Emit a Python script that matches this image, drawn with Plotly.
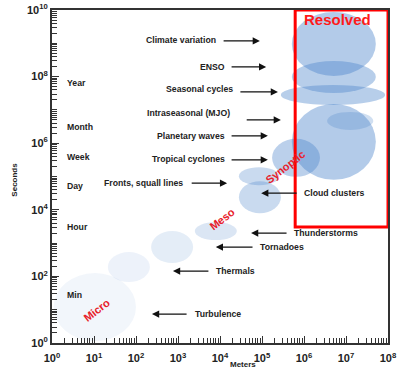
import plotly.graph_objects as go

# Phenomena scale ellipses: log10 extents of length (m) and time (s)
scale_names = ["Micro", "Small eddies", "Thermals", "Meso", "Cloud clusters", "Fronts",
               "Tropical cyclones", "Planetary waves", "Intraseasonal (MJO)",
               "Seasonal cycles", "ENSO", "Climate variation"]
log_len_lo = [0.04, 1.33, 2.36, 3.40, 4.45, 4.45, 5.24, 5.71, 6.55, 5.45, 5.71, 5.71]
log_len_hi = [2.00, 2.33, 3.36, 4.40, 5.45, 5.41, 6.38, 7.71, 7.65, 7.93, 7.71, 7.71]
log_time_lo = [0.06, 1.83, 2.40, 3.09, 3.90, 4.74, 4.99, 4.90, 6.40, 7.15, 7.51, 8.02]
log_time_hi = [2.10, 2.73, 3.36, 3.63, 4.86, 5.28, 6.13, 7.18, 6.94, 7.75, 8.47, 9.94]
ellipse_opacity = [0.07, 0.10, 0.15, 0.20, 0.30, 0.30, 0.38, 0.42, 0.26, 0.40, 0.40, 0.42]

# Resolved region (log10 bounds)
resolved_len = [5.79, 8.0]
resolved_time = [3.48, 10.0]

x_tick_exps = list(range(0, 9))
y_tick_exps = list(range(0, 11, 2))

time_labels = ["Year", "Month", "Week", "Day", "Hour", "Min"]
time_label_y = [7.8, 6.5, 5.6, 4.71, 3.48, 1.44]

# labels with arrows pointing right: (text, text_end_x, text_y, tail_x, head_x, arrow_y)
right_labels = [
    ("Climate variation", 3.95, 9.10, 4.05, 4.95, 9.07),
    ("ENSO", 4.17, 8.29, 4.24, 5.10, 8.29),
    ("Seasonal cycles", 4.36, 7.63, 4.45, 5.38, 7.54),
    ("Intraseasonal (MJO)", 4.29, 6.91, 4.60, 5.45, 6.70),
    ("Planetary waves", 4.17, 6.22, 4.24, 5.14, 6.22),
    ("Tropical cyclones", 4.17, 5.53, 4.24, 5.14, 5.50),
    ("Fronts, squall lines", 3.17, 4.80, 3.29, 4.17, 4.80),
]
# labels with arrows pointing left
left_labels = [
    ("Cloud clusters", 5.95, 4.50, 5.86, 4.98, 4.50),
    ("Thunderstorms", 5.71, 3.30, 5.62, 4.74, 3.30),
    ("Tornadoes", 4.90, 2.88, 4.81, 3.90, 2.88),
    ("Thermals", 3.86, 2.16, 3.76, 2.88, 2.16),
    ("Turbulence", 3.36, 0.87, 3.24, 2.38, 0.87),
]

regime_labels = ["Micro", "Meso", "Synoptic"]
regime_x = [1.07, 4.05, 5.55]
regime_y = [0.99, 3.72, 5.29]

fig = go.Figure()
fig.add_trace(go.Scatter(x=[1, 1e8], y=[1, 1e10], mode="markers",
                         marker=dict(opacity=0), hoverinfo="skip", showlegend=False))

shapes = []
for lo, hi, tlo, thi, op in zip(log_len_lo, log_len_hi, log_time_lo, log_time_hi, ellipse_opacity):
    shapes.append(dict(type="circle", xref="x", yref="y",
                       x0=10 ** lo, x1=10 ** hi, y0=10 ** tlo, y1=10 ** thi,
                       fillcolor="rgb(75,132,202)", opacity=op, line=dict(width=0),
                       layer="below"))
shapes.append(dict(type="rect", xref="x", yref="y",
                   x0=10 ** resolved_len[0], x1=10 ** resolved_len[1],
                   y0=10 ** resolved_time[0], y1=10 ** resolved_time[1],
                   line=dict(color="#ff0000", width=3), fillcolor="rgba(0,0,0,0)"))

ann = []
lab_font = dict(family="Liberation Sans", size=8.7, color="#222222")
for txt, tx, ty, tail, head, ay in right_labels:
    ann.append(dict(x=tx, y=ty, xref="x", yref="y", text="<b>" + txt + "</b>",
                    showarrow=False, xanchor="right", yanchor="middle", font=lab_font))
    ann.append(dict(x=head, y=ay, xref="x", yref="y", ax=tail, ay=ay, axref="x", ayref="y",
                    text="", showarrow=True, arrowhead=2, arrowsize=1.2, arrowwidth=1.2,
                    arrowcolor="#111111"))
for txt, tx, ty, tail, head, ay in left_labels:
    ann.append(dict(x=tx, y=ty, xref="x", yref="y", text="<b>" + txt + "</b>",
                    showarrow=False, xanchor="left", yanchor="middle", font=lab_font))
    ann.append(dict(x=head, y=ay, xref="x", yref="y", ax=tail, ay=ay, axref="x", ayref="y",
                    text="", showarrow=True, arrowhead=2, arrowsize=1.2, arrowwidth=1.2,
                    arrowcolor="#111111"))
for txt, ty in zip(time_labels, time_label_y):
    ann.append(dict(x=0.31, y=ty, xref="x", yref="y", text="<b>" + txt + "</b>",
                    showarrow=False, xanchor="left", yanchor="middle", font=lab_font))
for txt, rx, ry in zip(regime_labels, regime_x, regime_y):
    ann.append(dict(x=rx, y=ry, xref="x", yref="y", text="<b>" + txt + "</b>",
                    showarrow=False, textangle=-38,
                    font=dict(family="Liberation Sans", size=11, color="#e8202a")))
ann.append(dict(x=6.79, y=9.70, xref="x", yref="y", text="<b>Resolved</b>", showarrow=False,
                font=dict(family="Liberation Sans", size=15, color="#ff1a1a")))
ann.append(dict(x=-0.13, y=0.49, xref="paper", yref="paper", text="<b>Seconds</b>",
                showarrow=False, textangle=-90,
                font=dict(family="Liberation Sans", size=8, color="#222222")))
ann.append(dict(x=0.568, y=-0.085, xref="paper", yref="paper", text="<b>Meters</b>",
                showarrow=False,
                font=dict(family="Liberation Sans", size=8, color="#222222")))

axis_common = dict(type="log", showgrid=False, zeroline=False, showline=True,
                   linecolor="#333333", linewidth=2, mirror=True, automargin=False,
                   ticks="inside", ticklen=7, tickwidth=1.2, tickcolor="#333333",
                   minor=dict(ticks="inside", ticklen=5, tickwidth=1, tickcolor="#333333",
                              dtick="D1", showgrid=False),
                   tickfont=dict(family="Liberation Sans", size=11, color="#222222"))

fig.update_layout(
    width=406, height=377,
    margin=dict(l=52, r=18, t=10, b=34),
    plot_bgcolor="white", paper_bgcolor="white",
    showlegend=False,
    shapes=shapes, annotations=ann,
    xaxis=dict(range=[0, 8], tickvals=[10 ** e for e in x_tick_exps], ticklabelstandoff=4,
               ticktext=["<b>10<sup>%d</sup></b>" % e for e in x_tick_exps], **axis_common),
    yaxis=dict(range=[0, 10], tickvals=[10 ** e for e in y_tick_exps],
               ticktext=["<b>10<sup>%d</sup></b>" % e for e in y_tick_exps], **axis_common),
)

fig.write_html("out.html", config={"displayModeBar": False},
               post_script="document.body.style.margin='0';")
